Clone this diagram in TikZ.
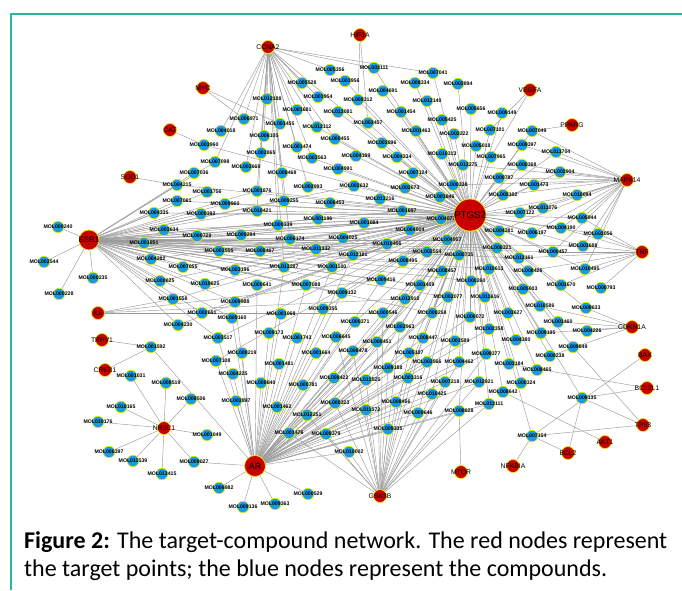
\documentclass[tikz,border=0pt]{standalone}
\usepackage{fontspec}
\setmainfont{Liberation Sans}
\newfontfamily\capfont{Carlito}
\usepackage{tikz}
\usetikzlibrary{backgrounds}
\definecolor{cmpdblue}{RGB}{22,155,232}
\definecolor{tgtred}{RGB}{200,0,0}
\definecolor{ringyellow}{RGB}{232,232,0}
\definecolor{edgegray}{RGB}{155,155,155}
\definecolor{frameteal}{RGB}{40,182,160}
\tikzstyle{cmpd} = [
  circle, draw=ringyellow, fill=cmpdblue, line width=0.7pt,
  minimum size=11.5pt, inner sep=0pt
]
\tikzstyle{cmpdlab} = [font=\fontsize{5.2}{6}\selectfont\bfseries, inner sep=0pt]
\tikzstyle{tgt} = [
  circle, draw=ringyellow, fill=tgtred, line width=0.7pt,
  minimum size=13pt, inner sep=0pt
]
\tikzstyle{tgtlab} = [font=\fontsize{6.8}{8}\selectfont, inner sep=0pt]
\tikzstyle{link} = [draw=edgegray, line width=0.45pt]

\begin{document}
\begin{tikzpicture}[x=1pt, y=-1pt]
  \useasboundingbox (0,0) rectangle (682,590);

  % Frame
  \draw[frameteal, line width=1.5pt] (11,590) -- (11,14) -- (682,14);

  % Compound nodes
  \foreach \id/\x/\y in {
    005356/330/70, 003111/374/68, 007041/433/73, 003956/345/81, 005528/302/83,
    008334/415/83, 004691/383/91, 003954/318/97, 012188/267/99, 008312/358/100,
    012140/427/101, 001681/297/110, 013081/338/112, 001454/401/112, 006971/244/119,
    005425/442/120, 001455/280/124, 012112/317/127, 003457/368/123, 001463/416/131,
    006105/264/136, 000455/335/139, 003896/382/143, 001474/297/147, 002865/261/153,
    004199/356/156, 004234/397/157, 003563/312/158, 010313/442/154, 003668/246/167,
    008468/282/173, 004991/338/169, 007124/413/173, 002894/458/84, 005656/471/109,
    009149/502/113, 002222/454/134, 007101/490/130, 007049/532/131, 005018/476/146,
    009397/522/145, 011704/556/152, 007965/491/157, 013275/463/165, 000368/522/165,
    002904/560/172, 000787/499/178, 004018/221/131, 003960/204/145, 007098/215/162,
    007036/194/173,
    004215/177/185, 001756/207/192, 007061/177/201, 009960/225/204, 004335/154/213,
    000392/201/214, 000240/58/227, 003634/164/230, 000729/197/236, 001851/144/243,
    002555/219/251, 004282/151/259, 002544/44/262, 007055/183/267, 000235/93/278,
    000625/160/281, 010625/205/284, 000228/59/294, 001558/173/299, 002651/202/313,
    004230/178/325, 003517/218/338, 001592/151/347,
    001876/257/191, 002993/308/187, 002632/354/186, 002673/405/188, 003846/440/197,
    009255/284/201, 006453/330/203, 013216/380/199, 010421/257/211, 001697/402/211,
    001196/318/219, 001084/364/223, 004077/441/219, 000339/278/225, 004014/410/230,
    009294/241/235, 006174/290/239, 004025/343/238, 010456/387/244, 004957/447/240,
    008467/260/251, 011332/316/249, 002554/427/252, 012181/353/255, 008495/403/261,
    003196/235/270, 013287/284/267, 001100/332/267, 008457/442/271, 009416/381/280,
    000641/257/285, 007088/306/285, 001459/420/285, 009132/342/293, 012910/405/299,
    002077/448/297, 009988/235/302, 009355/323/309, 001068/281/314, 000546/383/313,
    000258/432/313, 009160/232/318, 000371/355/322, 002963/400/327, 009173/269/333,
    001743/297/338, 006645/336/337, 008451/377/342, 008447/423/338,
    000338/453/185, 001473/534/185, 005102/503/195, 010094/577/195, 011076/543/208,
    007122/520/213, 005944/582/218, 004381/499/231, 006197/532/233, 004190/561/228,
    003056/598/234, 000321/497/248, 003688/583/246, 000457/553/252, 000735/459/255,
    012161/519/258, 010613/489/269, 008426/528/271, 010495/585/269, 000260/471/281,
    001670/561/285, 000793/601/288, 005003/523/289, 011616/485/297, 010586/540/306,
    009633/586/308, 003627/508/313, 000072/470/317, 001460/558/322, 002358/489/329,
    004226/587/331, 009195/541/333, 004380/516/340, 002589/455/341, 009849/573/347,
    001031/131/376, 008519/166/383, 008506/191/399, 010165/121/407, 010176/98/422,
    001049/207/435, 006397/109/452, 011539/133/461, 009027/194/462, 013415/162/474,
    006982/219/488, 007108/216/361,
    008219/242/353, 001664/316/353, 008478/353/351, 005107/409/353, 001481/279/364,
    009188/388/368, 003566/427/362, 004225/233/374, 008640/261/383, 000781/303/385,
    008422/334/378, 012525/366/380, 003316/408/378, 002897/236/401, 001462/277/407,
    000323/335/403, 008456/396/402, 010425/432/394, 011572/366/410, 009646/418/413,
    012251/307/415, 001476/289/433, 009379/326/434, 009335/388/429, 010002/349/452,
    000529/308/494, 009363/275/504, 009136/243/507,
    009377/486/354, 000238/550/356, 004462/459/362, 003184/509/364, 008465/537/370,
    007218/445/382, 012921/479/382, 000324/521/383, 008642/503/392, 009135/582/398,
    013111/489/404, 008628/459/411, 007154/532/436}
    \node[cmpd, label={[cmpdlab]center:MOL\id}] (m\id) at (\x,\y) {};

  % Target nodes
  \node[tgt, minimum size=32pt, label={[tgtlab, font=\fontsize{9.7}{11}\selectfont]center:PTGS2}] (ptgs2) at (470,215) {};
  \node[tgt, minimum size=20pt, label={[tgtlab, font=\fontsize{7.9}{9}\selectfont]center:ESR1}] (esr1) at (89,240) {};
  \node[tgt, minimum size=21pt, label={[tgtlab, font=\fontsize{8.9}{10}\selectfont]center:AR}] (ar) at (255,466) {};
  \node[tgt, label={[tgtlab]center:CCNA2}] (ccna2) at (268,47) {};
  \node[tgt, label={[tgtlab]center:HIF1A}] (hif1a) at (360,35) {};
  \node[tgt, label={[tgtlab]center:MYC}] (myc) at (203,88) {};
  \node[tgt, label={[tgtlab]center:CAT}] (cat) at (170,130) {};
  \node[tgt, label={[tgtlab]center:SOD1}] (sod1) at (130,177) {};
  \node[tgt, label={[tgtlab]center:VEGFA}] (vegfa) at (530,90) {};
  \node[tgt, label={[tgtlab]center:PPARG}] (pparg) at (572,125) {};
  \node[tgt, label={[tgtlab]center:MAPK14}] (mapk14) at (627,180) {};
  \node[tgt, label={[tgtlab]center:TNF}] (tnf) at (642,252) {};
  \node[tgt, label={[tgtlab]center:IL6}] (il6) at (98,313) {};
  \node[tgt, label={[tgtlab]center:TRPV1}] (trpv1) at (102,340) {};
  \node[tgt, label={[tgtlab]center:CREB1}] (creb1) at (105,370) {};
  \node[tgt, label={[tgtlab]center:CDKN1A}] (cdkn1a) at (632,327) {};
  \node[tgt, label={[tgtlab]center:NR3C1}] (nr3c1) at (164,428) {};
  \node[tgt, label={[tgtlab]center:GSK3B}] (gsk3b) at (380,496) {};
  \node[tgt, label={[tgtlab]center:BAX}] (bax) at (645,355) {};
  \node[tgt, label={[tgtlab]center:BCL2L1}] (bcl2l1) at (647,388) {};
  \node[tgt, label={[tgtlab]center:TP53}] (tp53) at (643,425) {};
  \node[tgt, label={[tgtlab]center:AKT1}] (akt1) at (605,442) {};
  \node[tgt, label={[tgtlab]center:BCL2}] (bcl2) at (568,453) {};
  \node[tgt, label={[tgtlab]center:NFKBIA}] (nfkbia) at (513,466) {};
  \node[tgt, label={[tgtlab]center:MTOR}] (mtor) at (461,472) {};

  % Connections
  \begin{scope}[on background layer]
    \foreach \id in {003111, 007041, 003956, 008334, 004691, 008312, 012140, 013081,
      001454, 005425, 003457, 001463, 003896, 004199, 004234, 010313, 004991, 007124,
      002894, 005656, 009149, 002222, 007101, 007049, 005018, 009397, 011704, 007965,
      013275, 000368, 002904, 000787, 012112, 000455, 003563, 003960,
      004215, 007061, 009960, 004335, 000392, 003634, 000729, 001851, 002555, 004282,
      007055, 000625, 010625, 001558, 002651, 004230, 003517,
      001876, 002993, 002632, 002673, 003846, 009255, 006453, 013216, 010421, 001697,
      001196, 001084, 004077, 000339, 004014, 009294, 006174, 004025, 010456, 004957,
      008467, 011332, 002554, 012181, 008495, 003196, 013287, 001100, 008457, 009416,
      000641, 007088, 001459, 009132, 012910, 002077, 009988, 009355, 000546, 000258,
      000371, 002963, 008451, 008447,
      000338, 001473, 005102, 010094, 011076, 007122, 005944, 004381, 006197, 004190,
      003056, 000321, 003688, 000457, 000735, 012161, 010613, 008426, 010495, 000260,
      001670, 005003, 011616, 010586, 009633, 003627, 000072, 001460, 002358, 009195,
      004380, 002589, 009849,
      007108, 005107, 009188, 003566, 008422, 012525, 003316, 000323, 008456, 010425,
      009646, 009377, 000238, 004462, 003184, 008465, 007218, 012921, 000324, 008642,
      013111, 008628, 009135, 007154}
      \draw[link] (ptgs2) -- (m\id);
    \foreach \id in {000240, 002544, 000235, 000228, 004215, 007061, 004335, 001756,
      000392, 003634, 000729, 001851, 004282, 007055, 000625, 010625, 001558, 002651,
      009960, 002555, 001876, 010421, 009294, 008467, 003196, 000641, 009988, 009160,
      009255, 000339, 006174, 013287, 001196, 004025, 011332, 001100, 012181, 010456,
      008495, 009416, 004077, 004957, 008457, 002554, 001697, 004014, 002632, 001084,
      000735, 000321, 012161, 000457, 003688, 009132, 007088, 001459, 000258, 002077,
      010613, 000260, 003517, 004230, 007098, 007036}
      \draw[link] (esr1) -- (m\id);
    \foreach \id in {009027, 006982, 009136, 009363, 000529, 001476, 012251, 009379,
      010002, 001462, 002897, 008640, 004225, 001481, 008219, 000781, 008422, 000323,
      011572, 012525, 009335, 008456, 003316, 009646, 010425, 009188, 005107, 008478,
      001664, 003566, 007108, 003517, 009173, 001743, 006645, 008451, 008447, 001068,
      009355, 000371, 002963, 000546, 009160, 009988, 000641, 007088, 009132, 012910,
      001459, 009416, 013287, 001100, 012181, 008457, 000258, 002077, 007218, 012921,
      004462, 008628, 013111, 000072, 002358, 002589, 009377, 001592}
      \draw[link] (ar) -- (m\id);
    \foreach \id in {010002, 009379, 009335, 011572, 008456, 009646, 012525, 003316,
      010425, 000323, 009188, 012251, 008628, 007218, 004462, 012921, 002963, 000546,
      008451, 008447, 006645, 003566, 005107, 008478, 013111, 009377, 001476}
      \draw[link] (gsk3b) -- (m\id);
    \foreach \id in {005356, 003111, 007041, 005528, 012188, 001681, 006971, 001455,
      012112, 006105, 002865, 003668, 008468, 001474, 003563, 000455, 003896, 003954,
      004018, 007098, 009255, 001876, 010421, 006174, 000339, 002993, 013287}
      \draw[link] (ccna2) -- (m\id);
    \foreach \id in {011704, 002904, 009397, 000368, 001473, 010094, 011076, 005944,
      007122, 004190, 003056, 000457, 000338, 013275, 005102, 007049, 006197, 003688,
      010495, 004381, 000787}
      \draw[link] (mapk14) -- (m\id);
    \foreach \id in {003056, 003688, 000457, 010495, 005944, 001670, 004190, 008426,
      000793, 012161}
      \draw[link] (tnf) -- (m\id);
    \foreach \id in {004226, 001460, 009633, 009195, 010586, 000238}
      \draw[link] (cdkn1a) -- (m\id);
    \foreach \id in {001031, 008519, 008506, 010165, 010176, 001049, 006397, 011539,
      009027, 013415}
      \draw[link] (nr3c1) -- (m\id);
    \foreach \id in {001558, 002651, 009416, 000546, 012910}
      \draw[link] (il6) -- (m\id);
    \draw[link] (myc) -- (m006971);
    \draw[link] (myc) -- (m001455);
    \draw[link] (cat) -- (m003960);
    \draw[link] (sod1) -- (m004215);
    \draw[link] (hif1a) -- (m008312);
    \draw[link] (hif1a) -- (m003457);
    \draw[link] (vegfa) -- (m007101);
    \draw[link] (vegfa) -- (m007965);
    \draw[link] (pparg) -- (m007049);
    \draw[link] (trpv1) -- (m001592);
    \draw[link] (creb1) -- (m001592);
    \draw[link] (bax) -- (m007154);
    \draw[link] (bcl2l1) -- (m009135);
    \draw[link] (bcl2l1) -- (m003184);
    \draw[link] (tp53) -- (m007154);
    \draw[link] (tp53) -- (m009135);
    \draw[link] (tp53) -- (m009849);
    \draw[link] (akt1) -- (m008642);
    \draw[link] (bcl2) -- (m007154);
    \draw[link] (bcl2) -- (m009135);
    \draw[link] (nfkbia) -- (m007154);
    \draw[link] (mtor) -- (m008628);
  \end{scope}

  % Caption
  \node[anchor=north west, inner sep=0pt, align=left,
        font=\capfont\fontsize{24}{28}\selectfont]
    (caption) at (24,531) {\textbf{Figure 2:} The target-compound network. The red nodes represent\\the target points; the blue nodes represent the compounds.};

\end{tikzpicture}
\end{document}
